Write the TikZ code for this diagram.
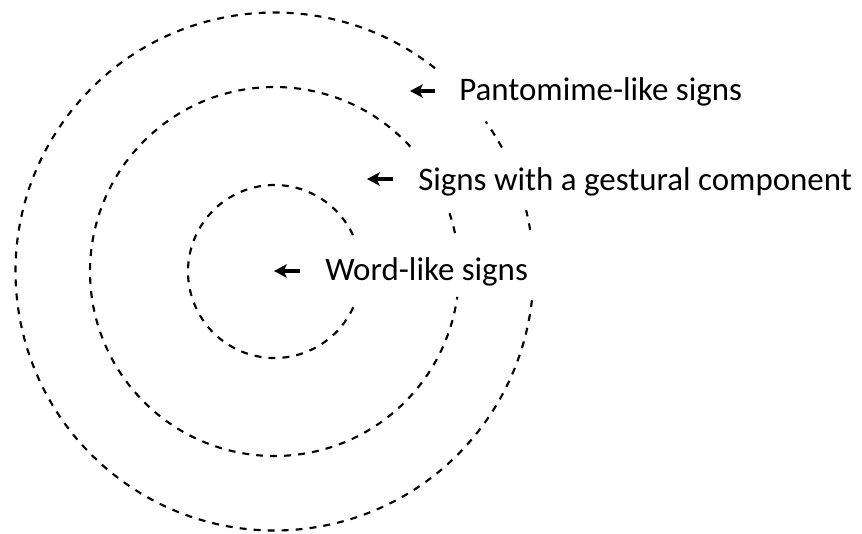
\documentclass[tikz,border=0pt]{standalone}
\usepackage{fontspec}
\setmainfont{Carlito}
\usetikzlibrary{arrows.meta}
\begin{document}
\begin{tikzpicture}[x=0.75pt,y=0.75pt,
  ring/.style={line width=1.6pt, dash pattern=on 5.2pt off 5.3pt},
  pointer/.style={line width=2.6pt,-{Stealth[length=9.5pt,width=10pt,inset=2.2pt]}},
  lbl/.style={anchor=base west, inner sep=0pt, font=\fontsize{24.7pt}{30pt}\selectfont}]
\useasboundingbox (0,0) rectangle (862,-533);
\coordinate (c) at (274.5,-271.5);
% outer ring
\draw[ring] (c) ++(51.7:259) arc[start angle=51.7, end angle=354.4, radius=259];
\draw[ring] (c) ++(28.6:259) arc[start angle=28.6, end angle=35.4, radius=259];
\draw[ring] (c) ++(9.2:259) arc[start angle=9.2, end angle=13.7, radius=259];
% middle ring
\draw[ring] (c) ++(42.6:184.5) arc[start angle=42.6, end angle=352.1, radius=184.5];
\draw[ring] (c) ++(12:184.5) arc[start angle=12, end angle=18.4, radius=184.5];
% inner ring
\draw[ring] (c) ++(24.9:86.5) arc[start angle=24.9, end angle=338.9, radius=86.5];
% labels
\node[lbl] (pant) at (459,-100.7) {Pantomime-like signs};
\node[lbl] (gest) at (418,-190) {Signs with a gestural component};
\node[lbl] (word) at (325,-280) {Word-like signs};
% arrows
\coordinate (pantT) at (435,-91);
\coordinate (pantH) at (410,-91);
\coordinate (gestT) at (393,-179);
\coordinate (gestH) at (367,-179);
\coordinate (wordT) at (300,-271);
\coordinate (wordH) at (274,-271);
\draw[pointer] (pantT) -- (pantH);
\draw[pointer] (gestT) -- (gestH);
\draw[pointer] (wordT) -- (wordH);
\end{tikzpicture}
\end{document}
